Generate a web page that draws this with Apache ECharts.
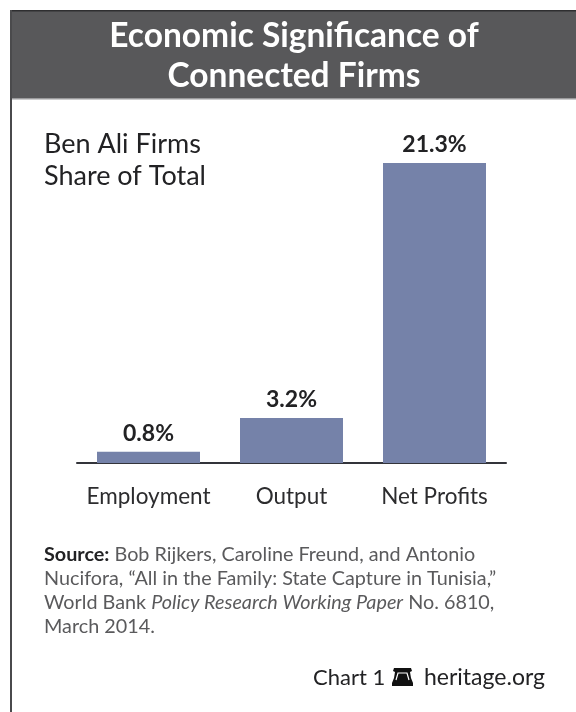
<!DOCTYPE html>
<html>
<head>
<meta charset="utf-8">
<style>html,body{margin:0;padding:0;background:#fff}#chart{width:576px;height:712px}</style>
<script src="https://cdn.jsdelivr.net/npm/echarts@6/dist/echarts.min.js"></script>
</head>
<body>
<div id="chart"></div>
<script>
const categories = ['Employment', 'Output', 'Net Profits'];
const shares = [0.8, 3.2, 21.3];
const titleLines = ['Economic Significance of', 'Connected Firms'];
const subtitleLines = ['Ben Ali Firms', 'Share of Total'];
const sourceLines = [
  '{b|Source:} Bob Rijkers, Caroline Freund, and Antonio',
  'Nucifora, “All in the Family: State Capture in Tunisia,”',
  'World Bank {i|Policy Research Working Paper} No. 6810,',
  'March 2014.'
];
const FONT = 'Lato';

const chart = echarts.init(document.getElementById('chart'), null, { renderer: 'canvas' });

chart.setOption({
  animation: false,
  backgroundColor: '#ffffff',
  grid: { left: 77, width: 429, top: 111, height: 352 },
  xAxis: {
    type: 'category',
    data: categories,
    axisTick: { show: false },
    axisLine: { lineStyle: { color: '#33343a', width: 2 } },
    axisLabel: { interval: 0, color: '#2c2c2e', fontFamily: FONT, fontSize: 22.5, margin: 22 }
  },
  yAxis: { type: 'value', min: 0, max: 25, show: false, splitLine: { show: false } },
  series: [{
    type: 'bar',
    data: shares,
    barWidth: 103,
    itemStyle: { color: '#7582a9' },
    label: {
      show: true,
      position: 'top',
      distance: 7,
      formatter: p => p.value.toFixed(1) + '%',
      color: '#222224',
      fontFamily: FONT,
      fontWeight: 'bold',
      fontSize: 23
    }
  }],
  graphic: [
    { type: 'rect', z: 0, shape: { x: 10, y: 10, width: 566, height: 88 },
      style: { fill: '#58585a' } },
    { type: 'rect', z: 1, shape: { x: 10, y: 10, width: 566, height: 1.5 },
      style: { fill: '#2e2e30' } },
    { type: 'rect', z: 1, shape: { x: 10, y: 98, width: 566, height: 1.5 },
      style: { fill: '#9a9a9c' } },
    { type: 'rect', z: 1, shape: { x: 10, y: 10, width: 2, height: 702 },
      style: { fill: '#4a4a4c' } },
    { type: 'text', z: 2, style: {
        x: 294, y: 56, text: titleLines.join('\n'), align: 'center', verticalAlign: 'middle',
        fill: '#ffffff', font: 'bold 33.5px ' + FONT, lineHeight: 40 } },
    { type: 'text', z: 2, style: {
        x: 44, y: 160, text: subtitleLines.join('\n'), align: 'left', verticalAlign: 'middle',
        fill: '#222224', font: '27px ' + FONT, lineHeight: 32 } },
    { type: 'text', z: 2, style: {
        x: 44, y: 591, text: sourceLines.join('\n'), align: 'left', verticalAlign: 'middle',
        fill: '#5a5a5c', font: '19.8px ' + FONT, lineHeight: 24,
        rich: {
          b: { fontFamily: FONT, fontSize: 19.8, fontWeight: 'bold', fill: '#222224', lineHeight: 24 },
          i: { fontFamily: FONT, fontSize: 19.8, fontStyle: 'italic', fill: '#5a5a5c', lineHeight: 24 }
        } } },
    { type: 'text', z: 2, style: {
        x: 313, y: 678, text: 'Chart 1', align: 'left', verticalAlign: 'middle',
        fill: '#222224', font: '22px ' + FONT } },
    { type: 'text', z: 2, style: {
        x: 545, y: 678, text: 'heritage.org', align: 'right', verticalAlign: 'middle',
        fill: '#222224', font: '23px ' + FONT } },
    // Liberty bell mark beside the publisher credit: yoke, shoulder gaps, body
    { type: 'polygon', z: 2, shape: { points: [
        [394, 668], [411, 668], [412, 671], [410, 672], [411, 678], [413, 683], [413, 686],
        [392, 686], [392, 683], [394, 678], [395, 672], [393, 671]
      ] }, style: { fill: '#111111' } },
    { type: 'polyline', z: 3, shape: { points: [[396, 680], [398, 673], [407, 673], [409, 680]] },
      style: { stroke: '#ffffff', lineWidth: 1.2, fill: null } }
  ]
});
</script>
</body>
</html>
